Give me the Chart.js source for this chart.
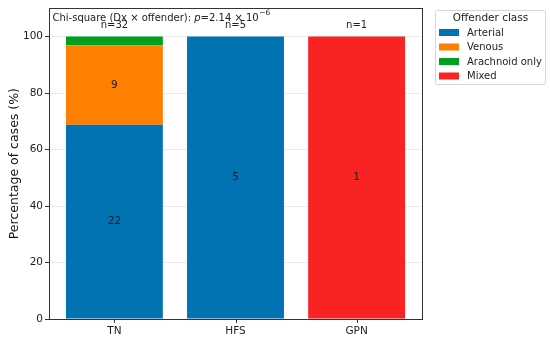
<!DOCTYPE html>
<html><head><meta charset="utf-8">
<script src="https://cdn.jsdelivr.net/npm/chart.js@4/dist/chart.umd.min.js"></script>
<style>html,body{margin:0;padding:0;background:#fff}#wrap{width:550px;height:341px}</style>
</head><body><div id="wrap"><canvas id="c" width="550" height="341"></canvas></div>
<script>
// ---- data ----
const categories = ['TN', 'HFS', 'GPN'];
const totals = [32, 5, 1];
const seriesNames = ['Arterial', 'Venous', 'Arachnoid only', 'Mixed'];
const arterialCount = [22, 5, 0];
const venousCount = [9, 0, 0];
const arachnoidCount = [1, 0, 0];
const mixedCount = [0, 0, 1];
const arterialPct = [68.75, 100, 0];
const venousPct = [28.125, 0, 0];
const arachnoidPct = [3.125, 0, 0];
const mixedPct = [0, 0, 100];
const yTickValues = [0, 20, 40, 60, 80, 100];
const legendTitle = 'Offender class';
const yAxisTitle = 'Percentage of cases (%)';
const statPrefix = 'Chi-square (Dx \u00d7 offender): ';
const statP = 'p';
const statValue = '=2.14 \u00d7 10';
const statExp = '\u22126';

const colors = ['#0173B2', '#FF8000', '#00A01E', '#FA2323'];
const counts = [arterialCount, venousCount, arachnoidCount, mixedCount];
const pcts = [arterialPct, venousPct, arachnoidPct, mixedPct];
const FONT = "'DejaVu Sans', sans-serif";

const datasets = seriesNames.map((n, i) => ({
  label: n,
  data: categories.map((c, k) => ({ x: k, y: pcts[i][k] })),
  backgroundColor: colors[i], borderWidth: 0,
  categoryPercentage: 1.0, barPercentage: 0.8, counts: counts[i]
}));

const annotPlugin = {
  id: 'annot',
  afterDatasetsDraw(chart) {
    const ctx = chart.ctx, ca = chart.chartArea;
    const xs = chart.scales.x, ys = chart.scales.y;
    ctx.save();
    // segment counts
    ctx.fillStyle = '#1a1a1a';
    ctx.font = '10.5px ' + FONT;
    ctx.textAlign = 'center'; ctx.textBaseline = 'middle';
    chart.data.datasets.forEach((ds, di) => {
      const meta = chart.getDatasetMeta(di);
      meta.data.forEach((bar, i) => {
        if (ds.data[i].y >= 5) {
          ctx.fillText(String(ds.counts[i]), bar.x, (bar.y + bar.base) / 2);
        }
      });
    });
    // n labels
    ctx.fillStyle = '#222';
    ctx.font = '10px ' + FONT;
    categories.forEach((c, i) => {
      ctx.fillText('n=' + totals[i], xs.getPixelForValue(i), ys.getPixelForValue(104.0));
    });
    // stat title
    let x = ca.left + 3.5, y = ys.getPixelForValue(106.4);
    ctx.textAlign = 'left';
    ctx.font = '10px ' + FONT;
    ctx.fillText(statPrefix, x, y); x += ctx.measureText(statPrefix).width;
    ctx.font = 'italic 10px ' + FONT;
    ctx.fillText(statP, x, y); x += ctx.measureText(statP).width;
    ctx.font = '10px ' + FONT;
    ctx.fillText(statValue, x, y); x += ctx.measureText(statValue).width;
    ctx.font = '7.5px ' + FONT;
    ctx.fillText(statExp, x + 0.5, y - 5);
    // frame (top/right spines)
    ctx.strokeStyle = '#333'; ctx.lineWidth = 1;
    ctx.strokeRect(Math.round(ca.left) + 0.5, Math.round(ca.top) + 0.5, Math.round(ca.right - ca.left), Math.round(ca.bottom - ca.top));
    // x tick marks at category centres
    ctx.beginPath();
    categories.forEach((c, i) => {
      const px = Math.round(xs.getPixelForValue(i)) + 0.5;
      ctx.moveTo(px, Math.round(ca.bottom));
      ctx.lineTo(px, Math.round(ca.bottom) + 4);
    });
    ctx.stroke();
    // legend
    const lx = 435.5, ly = 10.5, lw = 110, lh = 74;
    ctx.strokeStyle = '#d6d6d6'; ctx.fillStyle = 'rgba(255,255,255,0.9)';
    ctx.beginPath();
    if (ctx.roundRect) ctx.roundRect(lx, ly, lw, lh, 2); else ctx.rect(lx, ly, lw, lh);
    ctx.fill(); ctx.stroke();
    ctx.fillStyle = '#222';
    ctx.font = '10.5px ' + FONT;
    ctx.textAlign = 'center';
    ctx.fillText(legendTitle, lx + lw / 2, 18);
    ctx.font = '10px ' + FONT;
    ctx.textAlign = 'left';
    chart.data.datasets.forEach((ds, i) => {
      const cy = 32.5 + i * 14.5;
      ctx.fillStyle = ds.backgroundColor;
      ctx.fillRect(439, cy - 3.5, 20, 7);
      ctx.fillStyle = '#222';
      ctx.fillText(ds.label, 467, cy + 0.5);
    });
    ctx.restore();
  }
};

new Chart(document.getElementById('c'), {
  type: 'bar',
  data: { datasets },
  plugins: [annotPlugin],
  options: {
    responsive: false, animation: false, devicePixelRatio: 1,
    parsing: { xAxisKey: 'x', yAxisKey: 'y' },
    layout: { padding: { left: 0, right: 128, top: 5, bottom: 0 } },
    plugins: { legend: { display: false }, tooltip: { enabled: false } },
    scales: {
      x: {
        type: 'linear', stacked: true, offset: false, min: -0.54, max: 2.54,
        afterBuildTicks(s) { s.ticks = categories.map((c, i) => ({ value: i })); },
        grid: { display: false, drawTicks: false },
        border: { display: true, color: '#333', width: 1 },
        ticks: { color: '#222', font: { family: FONT, size: 10.5 }, padding: 6, callback: (v) => categories[v] },
        afterFit(s) { s.height = 22; }
      },
      y: {
        stacked: true, min: 0, max: 110,
        afterBuildTicks(s) { s.ticks = yTickValues.map(v => ({ value: v })); },
        grid: { display: true, drawOnChartArea: true, color: '#ececec', tickLength: 4, tickColor: '#333' },
        border: { display: true, color: '#333', width: 1 },
        ticks: { color: '#222', font: { family: FONT, size: 10.5 }, padding: 2 },
        title: { display: true, text: yAxisTitle, color: '#111', font: { family: FONT, size: 12.5 }, padding: { top: 7, bottom: 0 } },
        afterFit(s) { s.width = 49; }
      }
    }
  }
});
</script></body></html>
